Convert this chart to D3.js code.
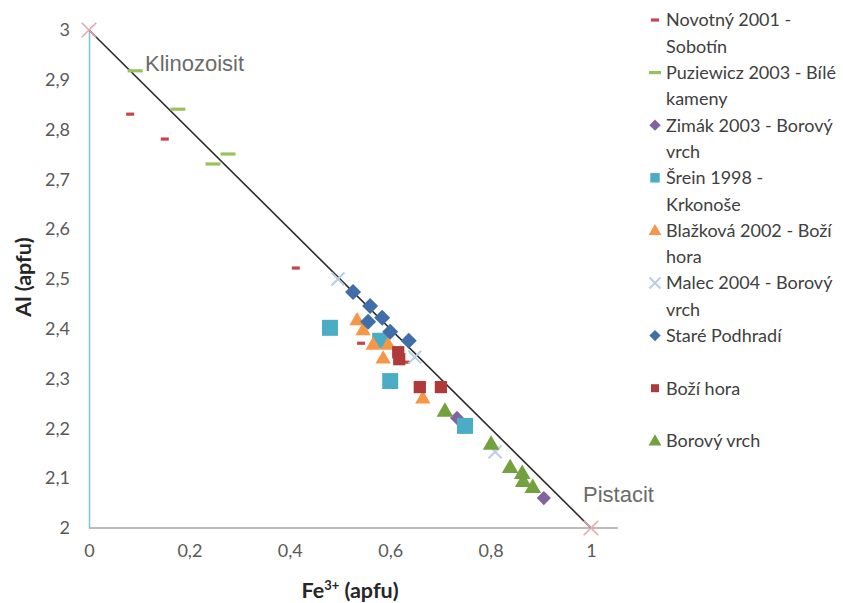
<!DOCTYPE html>
<html>
<head>
<meta charset="utf-8">
<script src="https://cdn.jsdelivr.net/npm/d3@7"></script>
<style>
  html, body { margin: 0; padding: 0; background: #fff; }
  svg { display: block; }
  .tick text { font-family: Lato, "Open Sans", sans-serif; font-size: 18px; fill: #595959; }
  .axis-title { font-family: Lato, "Open Sans", sans-serif; font-size: 21.5px; font-weight: bold; fill: #262626; }
  .legend text { font-family: Lato, "Open Sans", sans-serif; font-size: 18px; fill: #404040; }
  .endmember { font-family: "Liberation Sans", Arial, sans-serif; font-size: 22px; fill: #6b6b6b; }
</style>
</head>
<body>
<svg id="chart" width="846" height="603"></svg>
<script>
// Axis ticks
const xTicks = [0, 0.2, 0.4, 0.6, 0.8, 1];
const yTicks = [2, 2.1, 2.2, 2.3, 2.4, 2.5, 2.6, 2.7, 2.8, 2.9, 3];

// End members of the clinozoisite – pistacite join [Fe3+, Al]
const endMembers = [[0, 3], [1, 2]];
const endMemberNames = ["Klinozoisit", "Pistacit"];

// Analyses [Fe3+ apfu, Al apfu]
const novotny = [[0.082, 2.831], [0.151, 2.781], [0.412, 2.522], [0.542, 2.371], [0.631, 2.333]];
const puziewicz = [[0.092, 2.918], [0.177, 2.841], [0.247, 2.731], [0.277, 2.751]];
const zimak = [[0.733, 2.221], [0.906, 2.060]];
const srein = [[0.480, 2.402], [0.580, 2.376], [0.600, 2.295], [0.749, 2.205]];
const blazkova = [[0.534, 2.418], [0.546, 2.398], [0.566, 2.369], [0.596, 2.369], [0.586, 2.341], [0.665, 2.261]];
const malec = [[0.496, 2.500], [0.649, 2.343], [0.809, 2.153]];
const starePodhradi = [[0.526, 2.474], [0.560, 2.446], [0.556, 2.414], [0.584, 2.422], [0.600, 2.394], [0.637, 2.376]];
const boziHora = [[0.616, 2.353], [0.618, 2.339], [0.659, 2.283], [0.701, 2.283]];
const borovyVrch = [[0.709, 2.235], [0.801, 2.169], [0.839, 2.122], [0.863, 2.110], [0.865, 2.094], [0.884, 2.082]];

const seriesNames = [
  ["Novotný 2001 -", "Sobotín"],
  ["Puziewicz 2003 - Bílé", "kameny"],
  ["Zimák 2003 - Borový", "vrch"],
  ["Šrein 1998 -", "Krkonoše"],
  ["Blažková 2002 - Boží", "hora"],
  ["Malec 2004 - Borový", "vrch"],
  ["Staré Podhradí"],
  ["Boží hora"],
  ["Borový vrch"]
];

const series = [
  { data: novotny,       shape: "dash",     color: "#c9434f", size: 8,   lsize: 8 },
  { data: puziewicz,     shape: "dash",     color: "#9bc25a", size: 15,  lsize: 12 },
  { data: zimak,         shape: "diamond",  color: "#8064a2", size: 100, lsize: 64 },
  { data: srein,         shape: "square",   color: "#4bacc6", size: 256, lsize: 90 },
  { data: blazkova,      shape: "triangle", color: "#f79646", size: 85,  lsize: 60 },
  { data: malec,         shape: "times",    color: "#b9cde5", size: 110, lsize: 80 },
  { data: starePodhradi, shape: "diamond",  color: "#3f6ea9", size: 128, lsize: 64 },
  { data: boziHora,      shape: "square",   color: "#b03a3a", size: 150, lsize: 64 },
  { data: borovyVrch,    shape: "triangle", color: "#72a13d", size: 100, lsize: 60 }
];

const svg = d3.select("#chart");

const x = d3.scaleLinear().domain([0, 1]).range([89, 591]);
const y = d3.scaleLinear().domain([2, 3]).range([528, 30]);

const locale = d3.formatLocale({ decimal: ",", thousands: " ", grouping: [3], currency: ["", ""] });
const fmt = locale.format("~g");

// Horizontal axis (runs a little past Fe3+ = 1)
svg.append("line")
  .attr("x1", x(0)).attr("x2", x(1) + 27)
  .attr("y1", y(2)).attr("y2", y(2))
  .attr("stroke", "#a6a6a6").attr("stroke-width", 1.3);

const xAxis = svg.append("g")
  .attr("transform", `translate(0,${y(2)})`)
  .call(d3.axisBottom(x).tickValues(xTicks).tickSize(0).tickPadding(16).tickFormat(fmt));
xAxis.select(".domain").remove();

const yAxis = svg.append("g")
  .attr("transform", `translate(${x(0)},0)`)
  .call(d3.axisLeft(y).tickValues(yTicks).tickSize(0).tickPadding(19).tickFormat(fmt));
yAxis.select(".domain").attr("stroke", "#7fc3d6").attr("stroke-width", 1.5);

// Axis titles
svg.append("text").attr("class", "axis-title")
  .attr("transform", `translate(23,${(y(2) + y(3)) / 2 - 2}) rotate(-90)`)
  .attr("text-anchor", "middle").attr("dy", "0.35em")
  .text("Al (apfu)");

const xt = svg.append("text").attr("class", "axis-title")
  .attr("x", 350).attr("y", 598).attr("text-anchor", "middle");
xt.append("tspan").text("Fe");
xt.append("tspan").attr("dy", -8).attr("font-size", "13px").text("3+");
xt.append("tspan").attr("dy", 8).text(" (apfu)");

// Ideal join line
svg.append("line")
  .attr("x1", x(endMembers[0][0])).attr("y1", y(endMembers[0][1]))
  .attr("x2", x(endMembers[1][0])).attr("y2", y(endMembers[1][1]))
  .attr("stroke", "#2b2b2b").attr("stroke-width", 1.6);

// Marker drawing helper
function drawMarker(g, shape, color, size) {
  if (shape === "dash") {
    g.append("rect").attr("x", -size / 2).attr("y", -1.6)
      .attr("width", size).attr("height", 3.2).attr("fill", color);
  } else if (shape === "diamond") {
    g.append("path").attr("d", d3.symbol(d3.symbolSquare, size)())
      .attr("transform", "rotate(45)").attr("fill", color);
  } else if (shape === "square") {
    g.append("path").attr("d", d3.symbol(d3.symbolSquare, size)()).attr("fill", color);
  } else if (shape === "triangle") {
    g.append("path").attr("d", d3.symbol(d3.symbolTriangle, size * 1.2)())
      .attr("transform", "translate(0,1)").attr("fill", color);
  } else if (shape === "times") {
    g.append("path").attr("d", d3.symbol(d3.symbolTimes, size)())
      .attr("fill", "none").attr("stroke", color).attr("stroke-width", 2);
  }
}

const plot = svg.append("g");
series.forEach(s => {
  s.data.forEach(d => {
    const g = plot.append("g").attr("transform", `translate(${x(d[0])},${y(d[1])})`);
    drawMarker(g, s.shape, s.color, s.size);
  });
});

// End-member markers and names
endMembers.forEach(d => {
  svg.append("path")
    .attr("transform", `translate(${x(d[0])},${y(d[1])})`)
    .attr("d", d3.symbol(d3.symbolTimes, 140)())
    .attr("fill", "none").attr("stroke", "#e9a3ab").attr("stroke-width", 1.5);
});
svg.append("text").attr("class", "endmember")
  .attr("x", x(endMembers[0][0]) + 56).attr("y", y(endMembers[0][1]) + 41)
  .text(endMemberNames[0]);
svg.append("text").attr("class", "endmember")
  .attr("x", x(endMembers[1][0]) - 8).attr("y", y(endMembers[1][1]) - 26)
  .text(endMemberNames[1]);

// Legend
const legend = svg.append("g").attr("class", "legend");
const lineH = 26.3;
series.forEach((s, i) => {
  const y0 = 20 + i * 2 * lineH;
  const g = legend.append("g").attr("transform", `translate(655,${y0})`);
  drawMarker(g, s.shape, s.color, s.lsize);
  seriesNames[i].forEach((t, j) => {
    legend.append("text").attr("x", 666).attr("y", y0 + j * lineH)
      .attr("dy", "0.36em").text(t);
  });
});
</script>
</body>
</html>
